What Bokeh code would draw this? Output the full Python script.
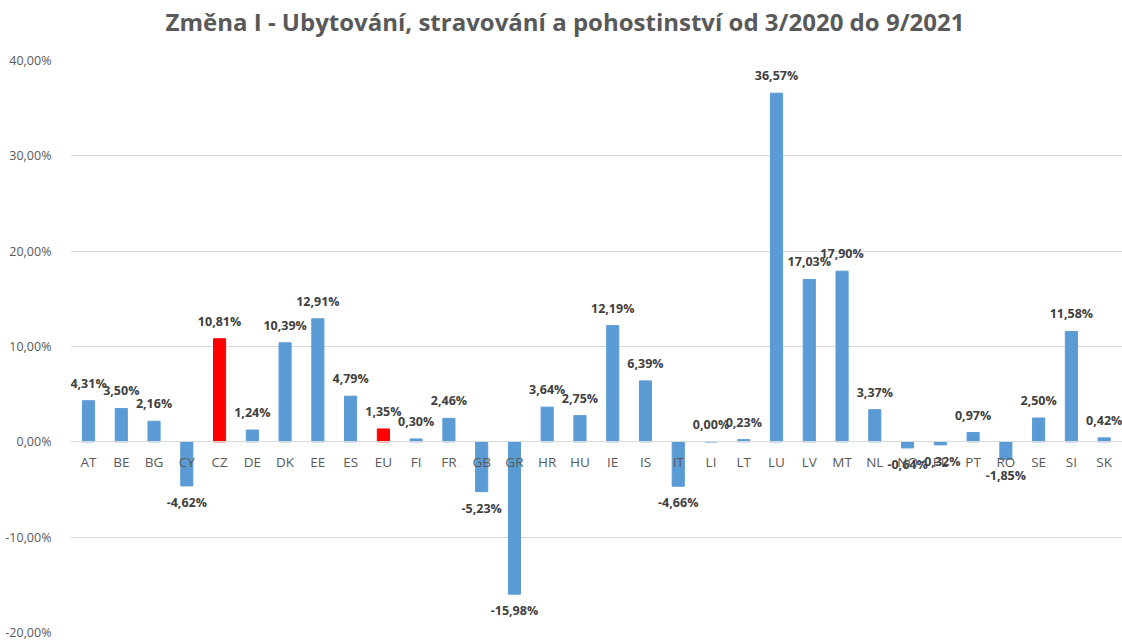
from bokeh.plotting import figure
from bokeh.models import Range1d, FixedTicker, ColumnDataSource, Div
from bokeh.layouts import column
from bokeh.embed import file_html
from bokeh.resources import INLINE
from bokeh.core.properties import value

categories = ["AT", "BE", "BG", "CY", "CZ", "DE", "DK", "EE", "ES", "EU", "FI", "FR",
              "GB", "GR", "HR", "HU", "IE", "IS", "IT", "LI", "LT", "LU", "LV", "MT",
              "NL", "NO", "PL", "PT", "RO", "SE", "SI", "SK"]
values_pct = [4.31, 3.50, 2.16, -4.62, 10.81, 1.24, 10.39, 12.91, 4.79, 1.35, 0.30, 2.46,
              -5.23, -15.98, 3.64, 2.75, 12.19, 6.39, -4.66, 0.00, 0.23, 36.57, 17.03, 17.90,
              3.37, -0.64, -0.32, 0.97, -1.85, 2.50, 11.58, 0.42]
highlight = ["CZ", "EU"]
y_ticks = [-0.2, -0.1, 0.0, 0.1, 0.2, 0.3, 0.4]
title_text = "Změna I - Ubytování, stravování a pohostinství od 3/2020 do 9/2021"

BLUE = "#5B9BD5"
RED = "#FF0000"

xs = list(range(len(categories)))
vals = [v / 100 for v in values_pct]
colors = [RED if c in highlight else BLUE for c in categories]
labels = [("%.2f%%" % v).replace(".", ",") for v in values_pct]

src = ColumnDataSource(dict(x=xs, top=vals, color=colors, label=labels))
pos = ColumnDataSource(dict(x=[x for x, v in zip(xs, vals) if v >= 0],
                            y=[v for v in vals if v >= 0],
                            label=[l for l, v in zip(labels, vals) if v >= 0]))
neg = ColumnDataSource(dict(x=[x for x, v in zip(xs, vals) if v < 0],
                            y=[v for v in vals if v < 0],
                            label=[l for l, v in zip(labels, vals) if v < 0]))

TITLE_H = 44
title = Div(text=title_text, width=1114, height=TITLE_H, margin=(0, 0, 0, 8),
            styles={"font-family": "Open Sans", "font-weight": "bold", "font-size": "24px",
                    "color": "#595959", "text-align": "center", "line-height": "%dpx" % TITLE_H,
                    "white-space": "nowrap"})

p = figure(width=1122, height=641 - TITLE_H, output_backend="svg", toolbar_location=None,
           x_range=Range1d(-0.55, 31.56), y_range=Range1d(-0.2, 0.4),
           min_border_left=70, min_border_right=0, min_border_top=60 - TITLE_H,
           min_border_bottom=9, margin=(0, 0, 0, 0))

p.vbar(x="x", top="top", bottom=0, width=0.37, color="color", source=src)

p.text(x="x", y="y", text="label", source=pos, text_align="center", text_baseline="bottom",
       y_offset=-9, text_font=value("Open Sans"), text_font_style="bold",
       text_font_size="12.5px", text_color="#404040")
p.text(x="x", y="y", text="label", source=neg, text_align="center", text_baseline="top",
       y_offset=8, text_font=value("Open Sans"), text_font_style="bold",
       text_font_size="12.5px", text_color="#404040")

# y axis
p.yaxis.ticker = FixedTicker(ticks=y_ticks)
p.yaxis.major_label_overrides = {t: ("%.2f%%" % (t * 100)).replace(".", ",").replace("-0,00", "0,00") for t in y_ticks}
p.yaxis.axis_line_color = None
p.yaxis.major_tick_line_color = None
p.yaxis.minor_tick_line_color = None
p.yaxis.major_label_text_font = "Open Sans"
p.yaxis.major_label_text_font_size = "12.5px"
p.yaxis.major_label_text_color = "#595959"
p.yaxis.major_label_standoff = 13

# x axis at zero
p.xaxis.fixed_location = 0
p.xaxis.ticker = FixedTicker(ticks=xs)
p.xaxis.major_label_overrides = {i: c for i, c in zip(xs, categories)}
p.xaxis.axis_line_color = "#D9D9D9"
p.xaxis.major_tick_line_color = None
p.xaxis.minor_tick_line_color = None
p.xaxis.major_label_text_font = "Open Sans"
p.xaxis.major_label_text_font_size = "13.5px"
p.xaxis.major_label_text_color = "#595959"
p.xaxis.major_label_standoff = 5

p.xgrid.grid_line_color = None
p.ygrid.ticker = FixedTicker(ticks=y_ticks)
p.ygrid.grid_line_color = "#D9D9D9"
p.outline_line_color = None

layout = column(title, p, spacing=0)
open("out.html", "w").write(file_html(layout, INLINE))
